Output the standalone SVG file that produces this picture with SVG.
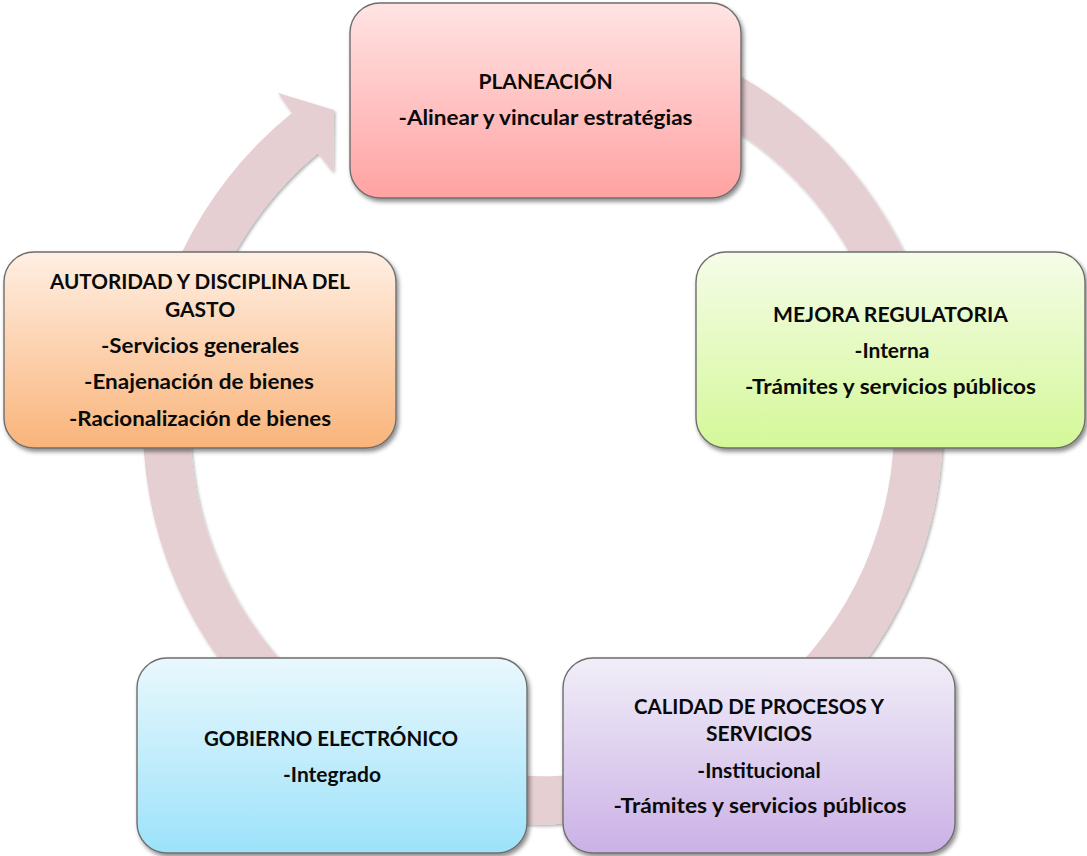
<svg xmlns="http://www.w3.org/2000/svg" width="1087" height="856" viewBox="0 0 1087 856">
  <defs>
    <style>
      .box { stroke: #6e6e6e; stroke-width: 1.4; filter: url(#shadow); }
      .ring { fill: #E6CFD2; filter: url(#ringShadow); }
      text { font-family: Lato, "Open Sans", "Liberation Sans", sans-serif; font-weight: bold; font-size: 21px; fill: #0a0a0a; text-anchor: middle; }
    </style>
    <filter id="shadow" x="-10%" y="-10%" width="125%" height="125%">
      <feDropShadow dx="2" dy="3" stdDeviation="2" flood-color="#000" flood-opacity="0.45"/>
    </filter>
    <filter id="ringShadow" x="-10%" y="-10%" width="125%" height="125%">
      <feDropShadow dx="1.5" dy="2" stdDeviation="1.5" flood-color="#000" flood-opacity="0.3"/>
    </filter>
    <linearGradient id="gPlan" x1="0" y1="0" x2="0" y2="1">
      <stop offset="0" stop-color="#FFE4E4"/>
      <stop offset="1" stop-color="#FFA2A2"/>
    </linearGradient>
    <linearGradient id="gMejora" x1="0" y1="0" x2="0" y2="1">
      <stop offset="0" stop-color="#F5FCE8"/>
      <stop offset="1" stop-color="#D4F898"/>
    </linearGradient>
    <linearGradient id="gCalidad" x1="0" y1="0" x2="0" y2="1">
      <stop offset="0" stop-color="#F1EEF8"/>
      <stop offset="1" stop-color="#CBB1E6"/>
    </linearGradient>
    <linearGradient id="gGobierno" x1="0" y1="0" x2="0" y2="1">
      <stop offset="0" stop-color="#E9F8FD"/>
      <stop offset="1" stop-color="#9CE2FA"/>
    </linearGradient>
    <linearGradient id="gAutoridad" x1="0" y1="0" x2="0" y2="1">
      <stop offset="0" stop-color="#FFEFE3"/>
      <stop offset="1" stop-color="#F9B47A"/>
    </linearGradient>
  </defs>

  <!-- circular arrow running clockwise behind the five boxes -->
  <g id="connectors">
    <path class="ring" d="M 615.5 31.1 A 400 400 0 1 1 292 113 L 278 93 L 334 110 L 333 172 L 318 153 A 352 352 0 1 0 607.1 78.4 Z"/>
  </g>

  <g id="planeacion">
    <rect class="box" x="350" y="3" width="391" height="195" rx="30" fill="url(#gPlan)"/>
    <text x="545.5" y="89">PLANEACIÓN</text>
    <text x="545.5" y="125" textLength="294" lengthAdjust="spacingAndGlyphs">-Alinear y vincular estratégias</text>
  </g>

  <g id="mejora-regulatoria">
    <rect class="box" x="696" y="252" width="389" height="196" rx="30" fill="url(#gMejora)"/>
    <text x="890.5" y="322" textLength="235" lengthAdjust="spacingAndGlyphs">MEJORA REGULATORIA</text>
    <text x="892" y="358">-Interna</text>
    <text x="890.5" y="394" textLength="291" lengthAdjust="spacingAndGlyphs">-Trámites y servicios públicos</text>
  </g>

  <g id="calidad">
    <rect class="box" x="563" y="658" width="392" height="195" rx="30" fill="url(#gCalidad)"/>
    <text x="759" y="714" textLength="250" lengthAdjust="spacingAndGlyphs">CALIDAD DE PROCESOS Y</text>
    <text x="759" y="741">SERVICIOS</text>
    <text x="759" y="778">-Institucional</text>
    <text x="760" y="813" textLength="293" lengthAdjust="spacingAndGlyphs">-Trámites y servicios públicos</text>
  </g>

  <g id="gobierno">
    <rect class="box" x="137" y="658" width="390" height="195" rx="30" fill="url(#gGobierno)"/>
    <text x="331" y="746" textLength="254" lengthAdjust="spacingAndGlyphs">GOBIERNO ELECTRÓNICO</text>
    <text x="332" y="782">-Integrado</text>
  </g>

  <g id="autoridad">
    <rect class="box" x="4" y="252" width="392" height="196" rx="30" fill="url(#gAutoridad)"/>
    <text x="200" y="289" textLength="300" lengthAdjust="spacingAndGlyphs">AUTORIDAD Y DISCIPLINA DEL</text>
    <text x="200" y="317">GASTO</text>
    <text x="200" y="353" textLength="198" lengthAdjust="spacingAndGlyphs">-Servicios generales</text>
    <text x="199" y="389" textLength="230" lengthAdjust="spacingAndGlyphs">-Enajenación de bienes</text>
    <text x="200" y="426" textLength="262" lengthAdjust="spacingAndGlyphs">-Racionalización de bienes</text>
  </g>
</svg>
